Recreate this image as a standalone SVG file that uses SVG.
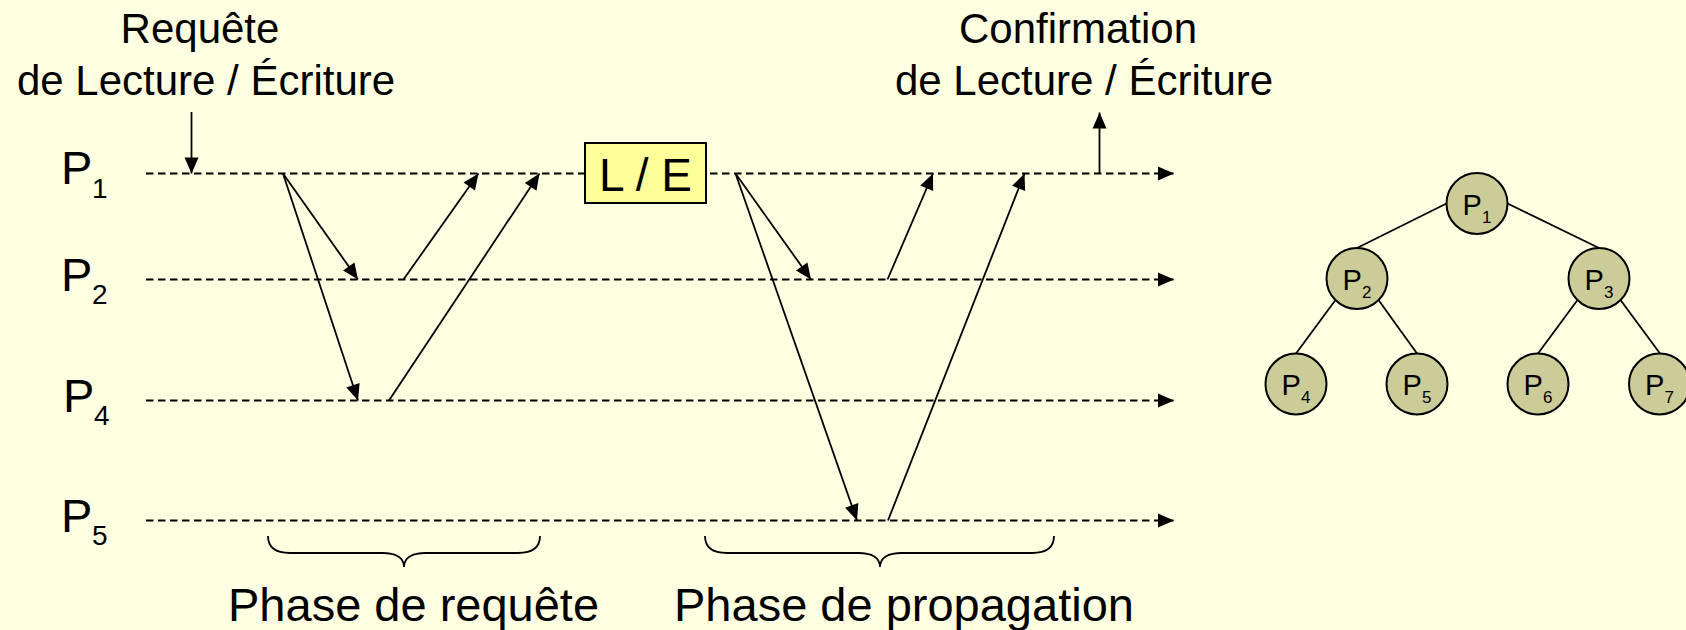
<svg xmlns="http://www.w3.org/2000/svg" width="1686" height="630" viewBox="0 0 1686 630">
<style>
text{font-family:"Liberation Sans",Arial,sans-serif;fill:#000}
.big{font-size:42px}
.lbl{font-size:47px}
.sub{font-size:28px}
.ph{font-size:47px}
.tl{stroke:#000;stroke-width:1.8;stroke-dasharray:7.5 4.5;fill:none}
.msg{stroke:#000;stroke-width:1.8;fill:none}
.edge{stroke:#000;stroke-width:1.8}
.node{fill:#CCCC99;stroke:#000;stroke-width:2}
.tn{font-size:29px}
.ts{font-size:17px}
.brace{fill:none;stroke:#000;stroke-width:1.8}
</style>
<defs>
<marker id="ah" markerUnits="userSpaceOnUse" markerWidth="16" markerHeight="14" refX="16" refY="7" orient="auto" overflow="visible">
<path d="M0,0 L16,7 L0,14 z" fill="#000"/>
</marker>
</defs>
<rect width="1686" height="630" fill="#FFFFE1"/>

<g id="labels-top">
<text class="big" x="200" y="43" text-anchor="middle">Requête</text>
<text class="big" x="206" y="95" text-anchor="middle">de Lecture / Écriture</text>
<text class="big" x="1078" y="43" text-anchor="middle">Confirmation</text>
<text class="big" x="1084" y="95" text-anchor="middle">de Lecture / Écriture</text>
</g>

<g id="process-labels">
<g id="label-P1"><text class="lbl" x="61" y="184">P</text><text class="sub" x="92" y="197.5">1</text></g>
<g id="label-P2"><text class="lbl" x="61" y="290.5">P</text><text class="sub" x="92" y="303.5">2</text></g>
<g id="label-P4"><text class="lbl" x="63" y="411.5">P</text><text class="sub" x="94" y="424.5">4</text></g>
<g id="label-P5"><text class="lbl" x="61" y="531.5">P</text><text class="sub" x="92" y="545">5</text></g>
</g>

<g id="connectors">
<line class="tl" x1="146" y1="173.5" x2="1174" y2="173.5" marker-end="url(#ah)"/>
<line class="tl" x1="146" y1="279.5" x2="1174" y2="279.5" marker-end="url(#ah)"/>
<line class="tl" x1="146" y1="400.5" x2="1174" y2="400.5" marker-end="url(#ah)"/>
<line class="tl" x1="146" y1="520.5" x2="1174" y2="520.5" marker-end="url(#ah)"/>

<line class="msg" x1="191.5" y1="112" x2="191.5" y2="173.5" marker-end="url(#ah)"/>
<line class="msg" x1="1099.5" y1="173.5" x2="1099.5" y2="112.5" marker-end="url(#ah)"/>

<line class="msg" x1="283" y1="173.5" x2="358" y2="279.5" marker-end="url(#ah)"/>
<line class="msg" x1="283" y1="173.5" x2="358" y2="400.5" marker-end="url(#ah)"/>
<line class="msg" x1="403.5" y1="279.5" x2="478.5" y2="173.5" marker-end="url(#ah)"/>
<line class="msg" x1="389" y1="400.5" x2="539.5" y2="173.5" marker-end="url(#ah)"/>

<line class="msg" x1="735.5" y1="173.5" x2="811" y2="279.5" marker-end="url(#ah)"/>
<line class="msg" x1="735.5" y1="173.5" x2="857" y2="520.5" marker-end="url(#ah)"/>
<line class="msg" x1="887.5" y1="279.5" x2="933" y2="173.5" marker-end="url(#ah)"/>
<line class="msg" x1="888" y1="520.5" x2="1024.5" y2="173.5" marker-end="url(#ah)"/>
</g>

<g id="LE-box">
<rect x="585" y="143" width="121" height="60" fill="#FFFF99" stroke="#000" stroke-width="2"/>
<text x="645.5" y="191" font-size="46" text-anchor="middle">L / E</text>
</g>

<g id="brace-requete">
<path class="brace" d="M268,536 C268,547 275,553 290,553 L382,553 C396,553 404,558 404,567 C404,558 412,553 426,553 L518,553 C533,553 540,547 540,536"/>
<text class="ph" x="228" y="621">Phase de requête</text>
</g>
<g id="brace-propagation">
<path class="brace" d="M705,536 C705,547 712,553 727,553 L858,553 C872,553 880,558 880,567 C880,558 888,553 902,553 L1032,553 C1047,553 1054,547 1054,536"/>
<text class="ph" x="674" y="621">Phase de propagation</text>
</g>

<g id="tree-edges">
<line class="edge" x1="1446.5" y1="203.5" x2="1357" y2="248"/>
<line class="edge" x1="1507.5" y1="203.5" x2="1599" y2="248"/>
<line class="edge" x1="1335.5" y1="300" x2="1296" y2="353.5"/>
<line class="edge" x1="1378.5" y1="300" x2="1417" y2="353.5"/>
<line class="edge" x1="1577.5" y1="300" x2="1538" y2="353.5"/>
<line class="edge" x1="1620.5" y1="300" x2="1660" y2="353.5"/>
</g>
<g id="node-P1"><circle class="node" cx="1477" cy="203.5" r="30.5"/><text class="tn" x="1477" y="214.5" text-anchor="middle">P<tspan class="ts" dy="8">1</tspan></text></g>
<g id="node-P2"><circle class="node" cx="1357" cy="278.5" r="30.5"/><text class="tn" x="1357" y="289.5" text-anchor="middle">P<tspan class="ts" dy="8">2</tspan></text></g>
<g id="node-P3"><circle class="node" cx="1599" cy="278.5" r="30.5"/><text class="tn" x="1599" y="289.5" text-anchor="middle">P<tspan class="ts" dy="8">3</tspan></text></g>
<g id="node-P4"><circle class="node" cx="1296" cy="384" r="30.5"/><text class="tn" x="1296" y="395" text-anchor="middle">P<tspan class="ts" dy="8">4</tspan></text></g>
<g id="node-P5"><circle class="node" cx="1417" cy="384" r="30.5"/><text class="tn" x="1417" y="395" text-anchor="middle">P<tspan class="ts" dy="8">5</tspan></text></g>
<g id="node-P6"><circle class="node" cx="1538" cy="384" r="30.5"/><text class="tn" x="1538" y="395" text-anchor="middle">P<tspan class="ts" dy="8">6</tspan></text></g>
<g id="node-P7"><circle class="node" cx="1659.5" cy="384" r="30.5"/><text class="tn" x="1659.5" y="395" text-anchor="middle">P<tspan class="ts" dy="8">7</tspan></text></g>
</svg>
